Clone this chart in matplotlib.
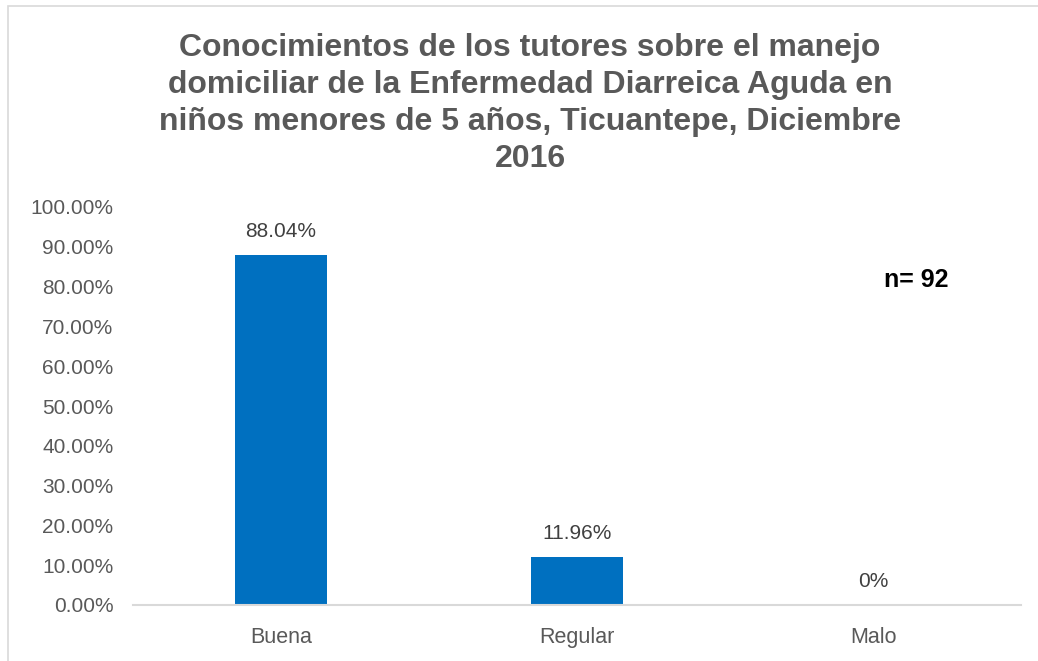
import matplotlib
matplotlib.use("Agg")
import matplotlib.pyplot as plt
from matplotlib.patches import Rectangle

# Data
categories = ["Buena", "Regular", "Malo"]
values = [88.04, 11.96, 0.0]
value_labels = ["88.04%", "11.96%", "0%"]
yticks = [0, 10, 20, 30, 40, 50, 60, 70, 80, 90, 100]
title = ("Conocimientos de los tutores sobre el manejo\n"
         "domiciliar de la Enfermedad Diarreica Aguda en\n"
         "niños menores de 5 años, Ticuantepe, Diciembre\n"
         "2016")

plt.rcParams['font.family'] = ['Liberation Sans', 'DejaVu Sans']

fig = plt.figure(figsize=(10.38, 6.61), dpi=100)
ax = fig.add_axes([133 / 1038, 1 - 605 / 661, 888 / 1038, 398 / 661])

x = range(len(categories))
ax.bar(x, values, width=0.31, color="#0070c0")
for xi, v, lab in zip(x, values, value_labels):
    ax.text(xi, v + 3.5, lab, ha="center", va="bottom", fontsize=15, color="#404040")

ax.set_xlim(-0.5, 2.5)
ax.set_ylim(0, 100)
ax.set_yticks(yticks)
ax.set_yticklabels([f"{t:.2f}%" for t in yticks], fontsize=15, color="#595959")
ax.set_xticks(list(x))
ax.set_xticklabels(categories, fontsize=15.5, color="#595959")
ax.tick_params(axis="both", length=0)
ax.tick_params(axis="y", pad=14)
ax.tick_params(axis="x", pad=16)

for side in ["top", "right", "left"]:
    ax.spines[side].set_visible(False)
ax.spines["bottom"].set_color("#d9d9d9")
ax.spines["bottom"].set_linewidth(1.5)

fig.text(530 / 1038, 1 - 33 / 661, title, ha="center", va="top", fontsize=23,
         fontweight="bold", color="#595959", linespacing=1.31)
fig.text(916 / 1038, 1 - 280 / 661, "n= 92", ha="center", va="center",
         fontsize=18, fontweight="bold", color="black")

# chart area border
fig.patches.append(Rectangle((8 / 1038, -0.05), 1.1, 1 - 6 / 661 + 0.05,
                             transform=fig.transFigure, fill=False,
                             edgecolor="#d9d9d9", linewidth=1.2))

fig.savefig("out.png", dpi=100)
